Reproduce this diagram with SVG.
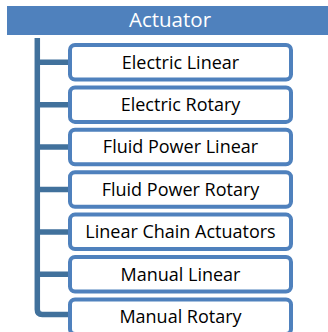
<svg xmlns="http://www.w3.org/2000/svg" width="328" height="332" viewBox="0 0 328 332">
<style>
.box{fill:#FFFFFF;stroke:#4F81BD;stroke-width:4}
.lbl{font-family:"Open Sans","Noto Sans",sans-serif;font-size:18px;fill:#000000;text-anchor:middle}
.conn{fill:none;stroke:#41719C;stroke-width:5.5}
</style>
<rect width="328" height="332" fill="#FFFFFF"/>
<g id="actuator">
<rect x="7" y="6" width="326" height="29" fill="#4F81BD"/>
<text x="170" y="27" font-family="'Open Sans','Noto Sans',sans-serif" font-size="20.5px" fill="#FFFFFF" text-anchor="middle">Actuator</text>
</g>
<g id="connectors">
<path class="conn" d="M37.3 38 V309.5 Q37.3 314.5 42.3 314.5 H70"/>
<line class="conn" x1="37.3" y1="62.3" x2="70" y2="62.3"/>
<line class="conn" x1="37.3" y1="104.7" x2="70" y2="104.7"/>
<line class="conn" x1="37.3" y1="147.1" x2="70" y2="147.1"/>
<line class="conn" x1="37.3" y1="189.5" x2="70" y2="189.5"/>
<line class="conn" x1="37.3" y1="231.9" x2="70" y2="231.9"/>
<line class="conn" x1="37.3" y1="274.3" x2="70" y2="274.3"/>
</g>
<g id="electric-linear">
<rect class="box" x="70" y="45" width="221" height="34.5" rx="5"/>
<text class="lbl" x="180.5" y="68.5">Electric Linear</text>
</g>
<g id="electric-rotary">
<rect class="box" x="70" y="87.4" width="221" height="34.5" rx="5"/>
<text class="lbl" x="180.5" y="110.9">Electric Rotary</text>
</g>
<g id="fluid-power-linear">
<rect class="box" x="70" y="129.8" width="221" height="34.5" rx="5"/>
<text class="lbl" x="180.5" y="153.3">Fluid Power Linear</text>
</g>
<g id="fluid-power-rotary">
<rect class="box" x="70" y="172.2" width="221" height="34.5" rx="5"/>
<text class="lbl" x="180.5" y="195.7">Fluid Power Rotary</text>
</g>
<g id="linear-chain-actuators">
<rect class="box" x="70" y="214.6" width="221" height="34.5" rx="5"/>
<text class="lbl" x="180.5" y="238.1">Linear Chain Actuators</text>
</g>
<g id="manual-linear">
<rect class="box" x="70" y="257" width="221" height="34.5" rx="5"/>
<text class="lbl" x="180.5" y="280.5">Manual Linear</text>
</g>
<g id="manual-rotary">
<rect class="box" x="70" y="299.4" width="221" height="34.5" rx="5"/>
<text class="lbl" x="180.5" y="322.9">Manual Rotary</text>
</g>
</svg>
